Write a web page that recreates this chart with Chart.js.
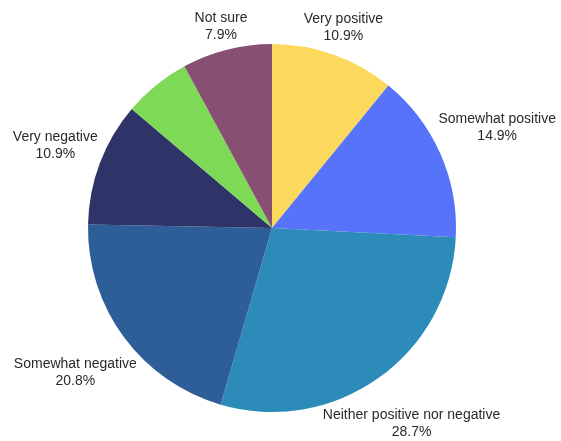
<!DOCTYPE html>
<html>
<head>
<meta charset="utf-8">
<script src="https://cdn.jsdelivr.net/npm/chart.js@4"></script>
<style>
  html, body { margin: 0; padding: 0; background: #fff; }
  #grafico { display: block; }
</style>
</head>
<body>
<canvas id="grafico" width="561" height="441"></canvas>
<script>
// data, clockwise from 12 o'clock
let categorias = ["Very positive", "Somewhat positive", "Neither positive nor negative",
                  "Somewhat negative", "Very negative", "", "Not sure"];
let valores = [10.9, 14.9, 28.7, 20.8, 10.9, 5.9, 7.9];
let rotulos = ["10.9%", "14.9%", "28.7%", "20.8%", "10.9%", "", "7.9%"];
let cores = ["#fcd95c", "#5673fa", "#2d8bba", "#2e5e98", "#2e3468", "#7ed957", "#875072"];

// draws the two-line labels outside each slice, pushed out along the slice's middle angle
const rotulosFora = {
    id: 'rotulosFora',
    afterDatasetsDraw(chart) {
        let ctx = chart.ctx;
        let arcos = chart.getDatasetMeta(0).data;
        ctx.save();
        ctx.font = '14px "Liberation Sans", Arial, sans-serif';
        ctx.fillStyle = '#2a2a2a';
        ctx.textAlign = 'center';
        ctx.textBaseline = 'middle';
        let alturaLinha = 17;
        arcos.forEach((arco, i) => {
            if (!categorias[i]) return;
            let p = arco.getProps(['x', 'y', 'startAngle', 'endAngle', 'outerRadius'], true);
            let meio = (p.startAngle + p.endAngle) / 2;
            let ux = Math.cos(meio), uy = Math.sin(meio);
            let w = Math.max(ctx.measureText(categorias[i]).width, ctx.measureText(rotulos[i]).width);
            let h = alturaLinha * 2;
            let alvo = p.outerRadius + 2;
            // find how far the text box centre must go so its nearest corner sits just outside the pie
            let lo = 0, hi = 500;
            for (let k = 0; k < 40; k++) {
                let t = (lo + hi) / 2;
                let dx = Math.max(0, Math.abs(t * ux) - w / 2);
                let dy = Math.max(0, Math.abs(t * uy) - h / 2);
                if (Math.hypot(dx, dy) < alvo) lo = t; else hi = t;
            }
            let cx = p.x + hi * ux, cy = p.y + hi * uy;
            ctx.fillText(categorias[i], cx, cy - alturaLinha / 2);
            ctx.fillText(rotulos[i], cx, cy + alturaLinha / 2);
        });
        ctx.restore();
    }
};

let grafico = new Chart(document.getElementById('grafico').getContext('2d'), {
    type: 'pie',
    data: {
        labels: categorias,
        datasets: [{
            data: valores,
            backgroundColor: cores,
            borderWidth: 0
        }]
    },
    options: {
        responsive: false,
        animation: false,
        layout: { padding: { left: 88, right: 105, top: 44, bottom: 29 } },
        plugins: {
            legend: { display: false },
            tooltip: { enabled: false }
        }
    },
    plugins: [rotulosFora]
});
</script>
</body>
</html>
